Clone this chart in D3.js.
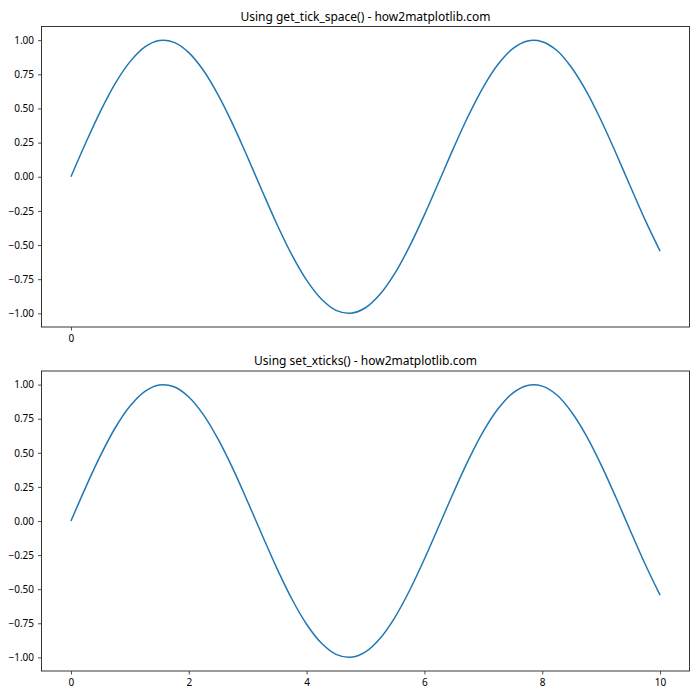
<!DOCTYPE html>
<html>
<head>
<meta charset="utf-8">
<script src="https://cdn.jsdelivr.net/npm/d3@7"></script>
<style>
  body { margin: 0; background: #fff; }
  svg text { font-family: "Noto Sans", "DejaVu Sans", sans-serif; }
</style>
</head>
<body>
<svg width="700" height="700"></svg>
<script>
// values
var xs = [0, 0.25, 0.5, 0.75, 1, 1.25, 1.5, 1.75, 2, 2.25, 2.5, 2.75, 3, 3.25, 3.5, 3.75,
          4, 4.25, 4.5, 4.75, 5, 5.25, 5.5, 5.75, 6, 6.25, 6.5, 6.75, 7, 7.25, 7.5, 7.75,
          8, 8.25, 8.5, 8.75, 9, 9.25, 9.5, 9.75, 10];
var ys = [0, 0.247, 0.479, 0.682, 0.841, 0.949, 0.997, 0.984, 0.909, 0.778, 0.598, 0.382,
          0.141, -0.108, -0.351, -0.572, -0.757, -0.895, -0.978, -0.999, -0.959, -0.859,
          -0.706, -0.508, -0.279, -0.033, 0.215, 0.450, 0.657, 0.823, 0.938, 0.994, 0.989,
          0.924, 0.798, 0.625, 0.412, 0.174, -0.075, -0.319, -0.544];
var yTicks = [-1, -0.75, -0.5, -0.25, 0, 0.25, 0.5, 0.75, 1];
var topXTicks = [0];
var bottomXTicks = [0, 2, 4, 6, 8, 10];
var titles = ["Using get_tick_space() - how2matplotlib.com", "Using set_xticks() - how2matplotlib.com"];

var svg = d3.select("svg");
var points = xs.map(function(x, i){ return [x, ys[i]]; });

function panel(top, bottom, title, xTicks){
  var left = 41.5, right = 689.5;
  var x = d3.scaleLinear().domain([-0.5, 10.5]).range([left, right]);
  var y = d3.scaleLinear().domain([-1.1, 1.1]).range([bottom, top]);
  var g = svg.append("g");

  g.append("path")
    .datum(points)
    .attr("fill", "none")
    .attr("stroke", "#1f77b4")
    .attr("stroke-width", 1.5)
    .attr("d", d3.line()
      .x(function(d){ return x(d[0]); })
      .y(function(d){ return y(d[1]); })
      .curve(d3.curveCatmullRom));

  g.append("rect")
    .attr("x", left).attr("y", top)
    .attr("width", right - left).attr("height", bottom - top)
    .attr("fill", "none").attr("stroke", "#222").attr("stroke-width", 0.9);

  var xa = g.append("g").attr("transform", "translate(0," + bottom + ")")
    .call(d3.axisBottom(x).tickValues(xTicks).tickSize(3.5).tickPadding(4).tickFormat(d3.format("d")));
  var ya = g.append("g").attr("transform", "translate(" + left + ",0)")
    .call(d3.axisLeft(y).tickValues(yTicks).tickSize(3.5).tickPadding(4).tickFormat(d3.format(".2f")));
  [xa, ya].forEach(function(a){
    a.select(".domain").remove();
    a.selectAll("line").attr("stroke", "#222").attr("stroke-width", 0.8);
    a.selectAll("text").attr("font-size", 10).attr("fill", "#000")
      .style("font-family", "'Noto Sans', sans-serif");
  });

  g.append("text")
    .attr("x", (left + right) / 2).attr("y", top - 6)
    .attr("text-anchor", "middle")
    .attr("font-size", 12)
    .text(title);
}

panel(26.5, 327, titles[0], topXTicks);
panel(371, 671, titles[1], bottomXTicks);
</script>
</body>
</html>
